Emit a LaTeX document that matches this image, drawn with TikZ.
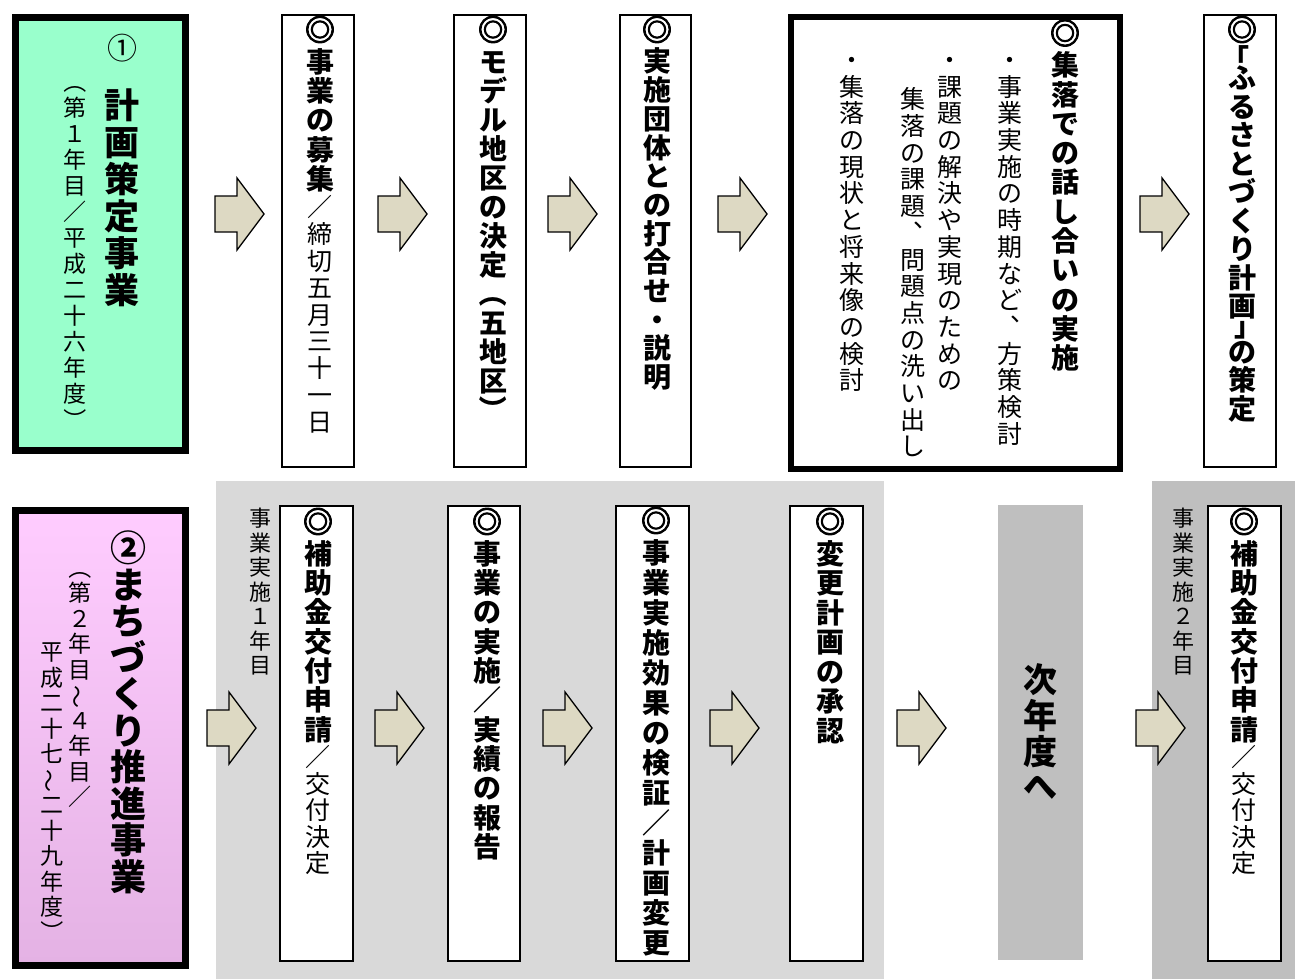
\documentclass[tikz,border=0pt]{standalone}
\usepackage{fontspec}
\usepackage{graphicx}
\newfontfamily\jp{Noto Sans CJK JP}
\newfontfamily\jpfb[FakeBold=3]{Noto Sans CJK JP}
\definecolor{mint}{HTML}{99FFCC}
\definecolor{pinktop}{HTML}{FFCCFF}
\definecolor{pinkbot}{HTML}{E4B2E4}
\definecolor{panelA}{HTML}{D9D9D9}
\definecolor{panelB}{HTML}{BFBFBF}
\definecolor{arrowfill}{HTML}{DDD9C3}

\newcommand\fb[1]{\jp\bfseries\fontsize{#1}{#1}\selectfont}
\newcommand\fl[1]{\jp\fontsize{#1}{#1}\selectfont}
\newcommand\fbb[1]{\jpfb\bfseries\fontsize{#1}{#1}\selectfont}
\newcommand\lp{\rotatebox[origin=c]{-90}{（}}
\newcommand\rp{\rotatebox[origin=c]{-90}{）}}
\newcommand\wave{\rotatebox[origin=c]{90}{～}}
\newcommand\vcm{\makebox[1em][l]{\kern.5em\raisebox{.6em}{\makebox[.5em][l]{、}}}}
\newcommand\lbr{\makebox[1em][l]{\kern-.22em\raisebox{-.12em}[.6em][0pt]{「}}}
\newcommand\rbr{\makebox[1em][l]{\kern.22em\raisebox{.1em}[.6em][0pt]{\makebox[.78em][l]{」}}}}

\ExplSyntaxOn
\NewDocumentCommand\vcol{mmm}{
  \vbox{\offinterlineskip #1
    \tl_map_inline:nn {#3}{
      \vbox~to~#2{\vss\hbox~to~60pt{\hss\vrule~height~.88em~depth~.12em~width~0pt\relax ##1\hss}\vss}
    }}
}
\ExplSyntaxOff
\newcommand\vstack[1]{\vbox{\offinterlineskip #1}}
\newcommand\dmark{\vcol{\fbb{30}}{35pt}{◎}}

\tikzset{
  vt/.style={anchor=north, inner sep=0pt, outer sep=0pt},
  thinbox/.style={draw=black, line width=1.8pt, fill=white, anchor=north west, inner sep=0pt},
  thickbox/.style={draw=black, line width=7pt, anchor=north west, inner sep=0pt},
  panel/.style={anchor=north west, inner sep=0pt, draw=none},
  barrow/.pic={\path[draw=black, line width=1.3pt, fill=arrowfill, line join=miter]
     (0,-18) -- (22,-18) -- (22,-36) -- (49,0) -- (22,36) -- (22,18) -- (0,18) -- cycle;}
}

\begin{document}
\begin{tikzpicture}[x=1pt,y=-1pt]
\useasboundingbox (0,0) rectangle (1295,979);
\fill[white] (0,0) rectangle (1295,979);

% panels
\node[panel, fill=panelA, minimum width=668pt, minimum height=498pt] (P1) at (216,481) {};
\node[panel, fill=panelB, minimum width=143pt, minimum height=498pt] (P2) at (1152,481) {};
\node[panel, fill=panelB, minimum width=85pt, minimum height=455pt] (NX) at (998,505) {};

% top row boxes
\node[thickbox, fill=mint, minimum width=170pt, minimum height=432pt] (G) at (11.5,14.5) {};
\node[thinbox, minimum width=72pt, minimum height=452pt] (T2) at (281,14) {};
\node[thinbox, minimum width=72pt, minimum height=452pt] (T3) at (453,14) {};
\node[thinbox, minimum width=71pt, minimum height=452pt] (T4) at (619,14) {};
\node[thickbox, line width=6pt, fill=white, minimum width=329pt, minimum height=452pt] (T5) at (788,14) {};
\node[thinbox, minimum width=72pt, minimum height=452pt] (T6) at (1203,14) {};

% bottom row boxes
\node[thickbox, top color=pinktop, bottom color=pinkbot, minimum width=170pt, minimum height=455pt] (K) at (11.5,506.5) {};
\node[thinbox, minimum width=73pt, minimum height=455pt] (B1) at (279,505) {};
\node[thinbox, minimum width=72pt, minimum height=455pt] (B2) at (447,505) {};
\node[thinbox, minimum width=73pt, minimum height=455pt] (B3) at (615,505) {};
\node[thinbox, minimum width=73pt, minimum height=455pt] (B4) at (789,505) {};
\node[thinbox, minimum width=73pt, minimum height=455pt] (B5) at (1207,505) {};

% arrows top
\pic (A1) at (215,214) {barrow};
\pic (A2) at (378,214) {barrow};
\pic (A3) at (548,214) {barrow};
\pic (A4) at (718,214) {barrow};
\pic (A5) at (1140,214) {barrow};
% arrows bottom
\pic (C1) at (207,728) {barrow};
\pic (C2) at (375,728) {barrow};
\pic (C3) at (543,728) {barrow};
\pic (C4) at (710,728) {barrow};
\pic (C5) at (897,728) {barrow};
\pic (C6) at (1136,728) {barrow};

% green box texts
\node (g1) at (122,48) {\fl{30}①};
\node[vt] (g2) at (122,86.5) {\vcol{\fb{35}}{37pt}{計画策定事業}};
\node[vt] (g3) at (75,69) {\vcol{\fl{23}}{26pt}{\lp 第１年目／平成二十六年度\rp}};

% top row texts
\node[vt] (t2) at (320,12) {\vstack{\dmark\vcol{\fb{28}}{29.3pt}{事業の募集}\vcol{\fl{25}}{26.9pt}{／締切五月三十一日}}};
\node[vt] (t3) at (493,12) {\vstack{\dmark\vcol{\fb{28}}{29pt}{モデル地区の決定\lp 五地区\rp}}};
\node[vt] (t4) at (657,12) {\vstack{\dmark\vcol{\fb{28}}{28.7pt}{実施団体との打合せ・説明}}};
\node[vt] (t5) at (1065,15.5) {\vstack{\dmark\vcol{\fb{28}}{29.3pt}{集落での話し合いの実施}}};
\node[vt] (t5a) at (1010,46.6) {\vcol{\fl{25}}{26.7pt}{・事業実施の時期など\vcm 方策検討}};
\node[vt] (t5b) at (950,46.6) {\vcol{\fl{25}}{26.7pt}{・課題の解決や実現のための}};
\node[vt] (t5c) at (913,86) {\vcol{\fl{25}}{26.7pt}{集落の課題\vcm 問題点の洗い出し}};
\node[vt] (t5d) at (852,46.6) {\vcol{\fl{25}}{26.7pt}{・集落の現状と将来像の検討}};
\node[vt] (t6) at (1242,12) {\vstack{\dmark\vcol{\fb{28}}{17pt}{\lbr}\vcol{\fb{28}}{28.5pt}{ふるさとづくり計画}\vcol{\fb{28}}{17pt}{\rbr}\vcol{\fb{28}}{28.5pt}{の策定}}};

% pink box texts
\node[vt] (k1) at (128,530) {\vcol{\fb{36}}{36.5pt}{②まちづくり推進事業}};
\node[vt] (k2) at (80,555) {\vcol{\fl{23}}{25.5pt}{\lp 第２年目\wave ４年目／}};
\node[vt] (k3) at (52,639) {\vcol{\fl{23}}{25.5pt}{平成二十七\wave 二十九年度\rp}};

% bottom row texts
\node[vt] (y1) at (260,506) {\vcol{\fl{22}}{24.5pt}{事業実施１年目}};
\node[vt] (b1) at (318,504) {\vstack{\dmark\vcol{\fb{28}}{29.3pt}{補助金交付申請}\vcol{\fl{25}}{26.5pt}{／交付決定}}};
\node[vt] (b2) at (487,504) {\vstack{\dmark\vcol{\fb{28}}{29.3pt}{事業の実施／実績の報告}}};
\node[vt] (b3) at (656,503) {\vstack{\dmark\vcol{\fb{28}}{30pt}{事業実施効果の検証／計画変更}}};
\node[vt] (b4) at (830,504) {\vstack{\dmark\vcol{\fb{28}}{29.5pt}{変更計画の承認}}};
\node[vt] (nx) at (1040,662) {\vcol{\fb{34}}{35.7pt}{次年度へ}};
\node[vt] (y2) at (1183,506) {\vcol{\fl{22}}{24.5pt}{事業実施２年目}};
\node[vt] (b5) at (1244,504) {\vstack{\dmark\vcol{\fb{28}}{29.3pt}{補助金交付申請}\vcol{\fl{25}}{26.5pt}{／交付決定}}};
\end{tikzpicture}
\end{document}
